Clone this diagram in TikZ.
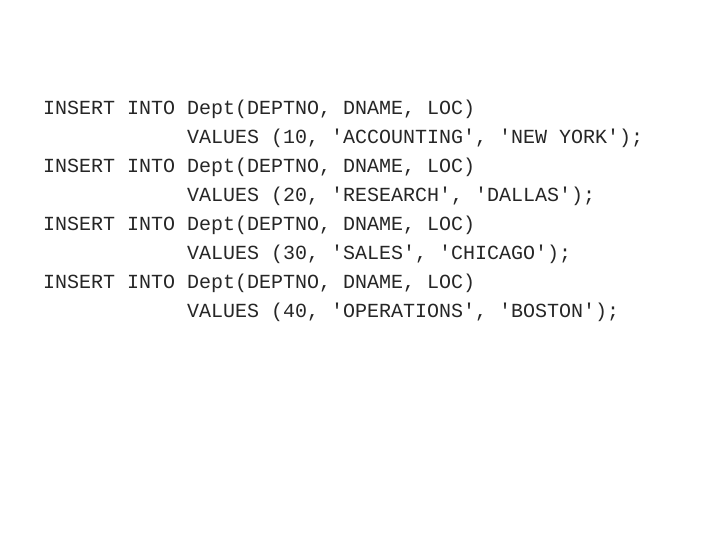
\documentclass[tikz,border=0pt]{standalone}
\usepackage{fontspec}
\setmonofont{Liberation Mono}
\begin{document}
\begin{tikzpicture}[x=1pt,y=1pt,t/.style={anchor=base west,inner sep=0pt,font=\fontsize{20}{24}\selectfont\ttfamily,text=black!85}]
\useasboundingbox (0,0) rectangle (720,540);
\node[t] (k1) at (43,425) {INSERT INTO};
\node[t] (a1) at (187,425) {Dept(DEPTNO, DNAME, LOC)};
\node[t] (v1) at (187,396) {VALUES (10, 'ACCOUNTING', 'NEW YORK');};
\node[t] (k2) at (43,367) {INSERT INTO};
\node[t] (a2) at (187,367) {Dept(DEPTNO, DNAME, LOC)};
\node[t] (v2) at (187,338) {VALUES (20, 'RESEARCH', 'DALLAS');};
\node[t] (k3) at (43,309) {INSERT INTO};
\node[t] (a3) at (187,309) {Dept(DEPTNO, DNAME, LOC)};
\node[t] (v3) at (187,280) {VALUES (30, 'SALES', 'CHICAGO');};
\node[t] (k4) at (43,251) {INSERT INTO};
\node[t] (a4) at (187,251) {Dept(DEPTNO, DNAME, LOC)};
\node[t] (v4) at (187,222) {VALUES (40, 'OPERATIONS', 'BOSTON');};
\end{tikzpicture}
\end{document}
